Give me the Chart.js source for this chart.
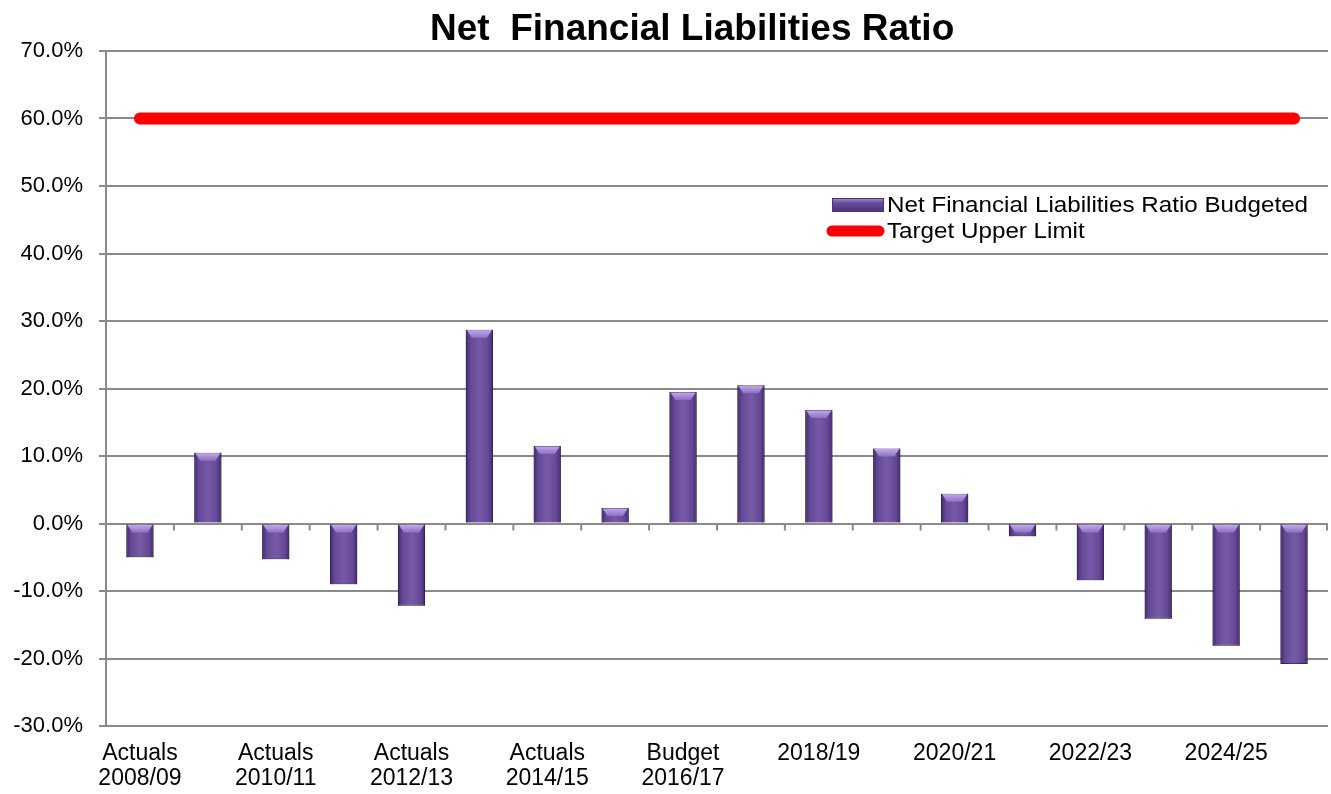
<!DOCTYPE html>
<html>
<head>
<meta charset="utf-8">
<title>Net Financial Liabilities Ratio</title>
<script src="https://cdn.jsdelivr.net/npm/chart.js@4.4.1/dist/chart.umd.min.js"></script>
<style>
  html, body { margin: 0; padding: 0; background: #fff; }
  #wrap { width: 1331px; height: 794px; position: relative; }
</style>
</head>
<body>
<div id="wrap"><canvas id="nflChart"></canvas></div>
<script>
// financial years, with the heading shown above each visible label
const years = ['2008/09', '2009/10', '2010/11', '2011/12', '2012/13', '2013/14', '2014/15', '2015/16', '2016/17',
    '2017/18', '2018/19', '2019/20', '2020/21', '2021/22', '2022/23', '2023/24', '2024/25', '2025/26'];
const yearKind = ['Actuals', 'Actuals', 'Actuals', 'Actuals', 'Actuals', 'Actuals', 'Actuals', 'Actuals', 'Budget',
    '', '', '', '', '', '', '', '', ''];

// ratio in percent
const netLiabilities = [-5.0, 10.5, -5.3, -9.0, -12.2, 28.7, 11.5, 2.3, 19.5,
    20.5, 16.8, 11.1, 4.4, -1.9, -8.4, -14.1, -18.1, -20.8];
const upperLimit = [60, 60, 60, 60, 60, 60, 60, 60, 60, 60, 60, 60, 60, 60, 60, 60, 60, 60];

const yTicks = { min: -30, max: 70, step: 10 };

const labels = years.map((y, i) => yearKind[i] ? [yearKind[i], y] : y);

const GRID = '#8a8a8a';
const FONT = '"Liberation Sans", Arial, sans-serif';

// bevelled look for the columns: darker sides, light wedge on top, soft shadow
const barBevel = {
    id: 'barBevel',
    beforeDatasetDraw(chart, args) {
        if (args.index !== 0) return;
        const ctx = chart.ctx;
        ctx.save();
        ctx.shadowColor = 'rgba(0,0,0,0.3)';
        ctx.shadowBlur = 5;
        ctx.shadowOffsetY = 3;
    },
    afterDatasetDraw(chart, args) {
        if (args.index !== 0) return;
        const ctx = chart.ctx;
        ctx.restore();
        args.meta.data.forEach(bar => {
            const w = bar.width;
            const l = bar.x - w / 2;
            const top = Math.min(bar.y, bar.base);
            const h = Math.abs(bar.base - bar.y);
            const g = ctx.createLinearGradient(l, 0, l + w, 0);
            g.addColorStop(0, 'rgba(30,10,60,0.55)');
            g.addColorStop(0.15, 'rgba(30,10,60,0.1)');
            g.addColorStop(0.5, 'rgba(255,255,255,0.08)');
            g.addColorStop(0.85, 'rgba(30,10,60,0.1)');
            g.addColorStop(1, 'rgba(30,10,60,0.55)');
            ctx.fillStyle = g;
            ctx.fillRect(l, top, w, h);
            const bh = Math.min(8, h);
            const v = ctx.createLinearGradient(0, top, 0, top + bh);
            v.addColorStop(0, '#c4acec');
            v.addColorStop(1, '#8d6fc2');
            ctx.fillStyle = v;
            ctx.beginPath();
            ctx.moveTo(l + 1, top + 0.5);
            ctx.lineTo(l + w - 1, top + 0.5);
            ctx.lineTo(l + w - 6, top + bh);
            ctx.lineTo(l + 6, top + bh);
            ctx.closePath();
            ctx.fill();
        });
    }
};

// small tick marks hanging under the zero line between categories
const zeroTicks = {
    id: 'zeroTicks',
    beforeDatasetsDraw(chart) {
        const { ctx, chartArea, scales: { x, y } } = chart;
        const y0 = y.getPixelForValue(0);
        ctx.save();
        ctx.strokeStyle = GRID;
        ctx.lineWidth = 2;
        ctx.beginPath();
        for (let i = 0; i < years.length; i++) {
            const bx = i < years.length - 1
                ? (x.getPixelForTick(i) + x.getPixelForTick(i + 1)) / 2
                : chartArea.right - 1;
            ctx.moveTo(bx, y0);
            ctx.lineTo(bx, y0 + 7);
        }
        ctx.stroke();
        ctx.restore();
    }
};

// title and the legend box sitting inside the plot
const titleAndLegend = {
    id: 'titleAndLegend',
    afterDraw(chart) {
        const { ctx, chartArea } = chart;
        ctx.save();
        ctx.fillStyle = '#000';
        ctx.font = 'bold 37px ' + FONT;
        ctx.textAlign = 'center';
        ctx.textBaseline = 'alphabetic';
        ctx.fillText('Net  Financial Liabilities Ratio', chart.width * 0.52, 40);

        const lx = chartArea.left + 721;
        const ly = chartArea.top + 154;
        // bar swatch
        const g = ctx.createLinearGradient(0, ly - 7, 0, ly + 7);
        g.addColorStop(0, '#a88ed6');
        g.addColorStop(0.35, '#6a4c9c');
        g.addColorStop(1, '#4a3276');
        ctx.fillStyle = g;
        ctx.fillRect(lx + 5, ly - 7, 52, 14);
        ctx.strokeStyle = '#4a3276';
        ctx.lineWidth = 1;
        ctx.strokeRect(lx + 5.5, ly - 6.5, 51, 13);
        // line swatch
        ctx.strokeStyle = '#ff0000';
        ctx.lineWidth = 11;
        ctx.lineCap = 'round';
        ctx.beginPath();
        ctx.moveTo(lx + 5, ly + 26);
        ctx.lineTo(lx + 52, ly + 26);
        ctx.stroke();

        // legend text is set a little wide
        ctx.fillStyle = '#000';
        ctx.font = '22px ' + FONT;
        ctx.textAlign = 'left';
        ctx.textBaseline = 'middle';
        ctx.translate(lx + 60, 0);
        ctx.scale(1.1, 1);
        ctx.fillText('Net Financial Liabilities Ratio Budgeted', 0, ly + 1);
        ctx.fillText('Target Upper Limit', 0, ly + 27);
        ctx.restore();
    }
};

const ctx = document.getElementById('nflChart').getContext('2d');
new Chart(ctx, {
    data: {
        labels: labels,
        datasets: [{
            type: 'bar',
            label: 'Net Financial Liabilities Ratio Budgeted',
            data: netLiabilities,
            backgroundColor: '#6a4c9e',
            borderColor: '#4a3276',
            borderWidth: 1,
            barPercentage: 0.4,
            categoryPercentage: 1,
            order: 2
        }, {
            type: 'line',
            label: 'Target Upper Limit',
            data: upperLimit,
            borderColor: '#ff0000',
            borderWidth: 12,
            borderCapStyle: 'round',
            pointRadius: 0,
            fill: false,
            order: 1
        }]
    },
    options: {
        responsive: true,
        maintainAspectRatio: false,
        animation: false,
        layout: { padding: { top: 51, right: 3, left: 0, bottom: 0 } },
        plugins: {
            legend: { display: false },
            title: { display: false },
            tooltip: { enabled: false }
        },
        scales: {
            x: {
                offset: true,
                grid: { display: false, drawTicks: false },
                border: { display: false },
                afterFit: scale => { scale.height = 68; },
                ticks: {
                    autoSkip: false,
                    maxRotation: 0,
                    padding: 15,
                    color: '#000',
                    font: { family: FONT, size: 23, lineHeight: 1.1 },
                    callback: function (value, index) {
                        return index % 2 === 0 ? labels[index] : '';
                    }
                }
            },
            y: {
                min: yTicks.min,
                max: yTicks.max,
                afterFit: scale => { scale.width = 106; },
                grid: { color: GRID, lineWidth: 2, tickLength: 7 },
                border: { color: GRID, width: 2 },
                ticks: {
                    stepSize: yTicks.step,
                    padding: 16,
                    color: '#000',
                    font: { family: FONT, size: 22 },
                    callback: value => value.toFixed(1) + '%'
                }
            }
        }
    },
    plugins: [barBevel, zeroTicks, titleAndLegend]
});
</script>
</body>
</html>
